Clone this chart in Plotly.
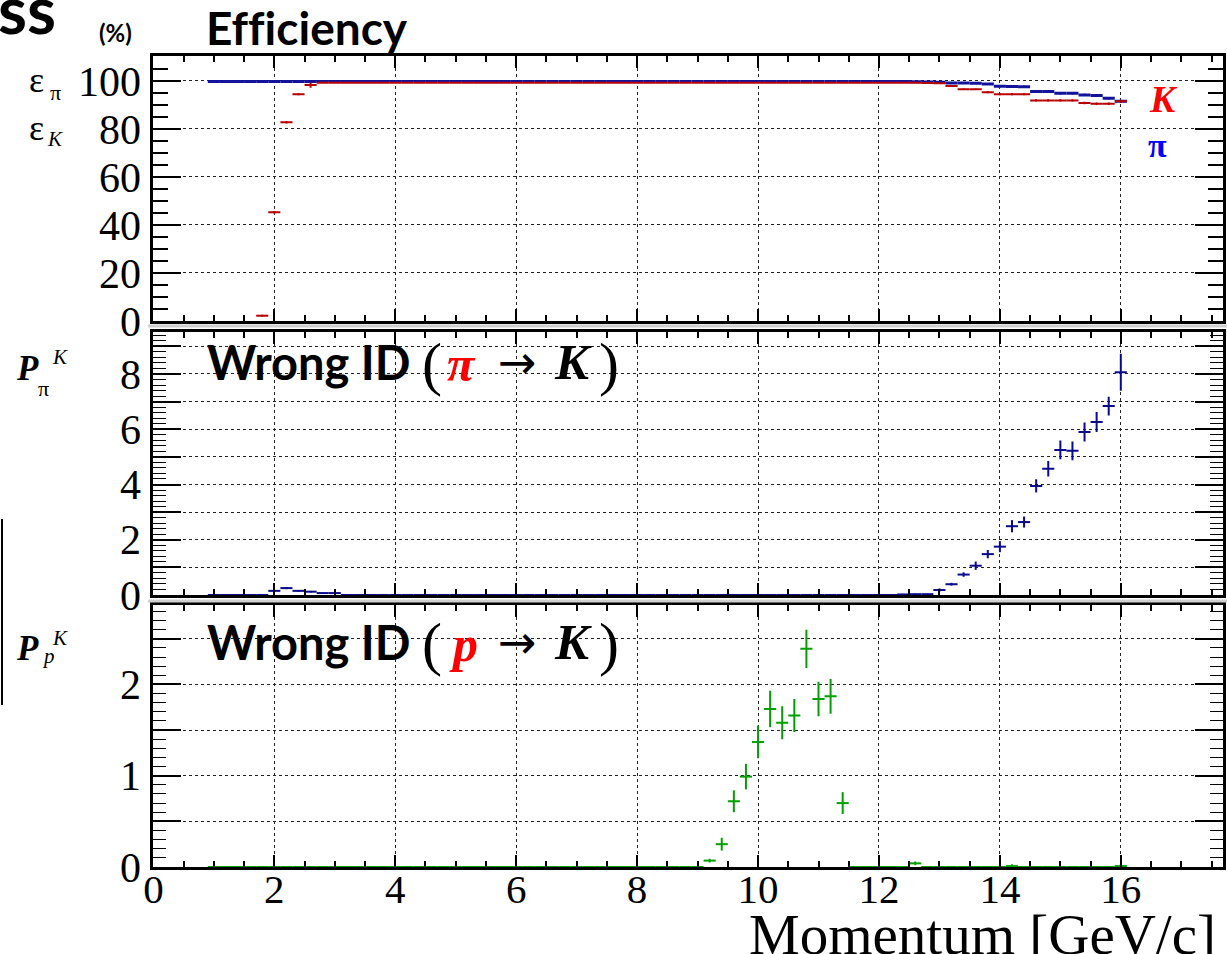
import plotly.graph_objects as go

# ---------------- data ----------------
momentum = [1.0, 1.2, 1.4, 1.6, 1.8, 2.0, 2.2, 2.4, 2.6, 2.8,
            3.0, 3.2, 3.4, 3.6, 3.8, 4.0, 4.2, 4.4, 4.6, 4.8,
            5.0, 5.2, 5.4, 5.6, 5.8, 6.0, 6.2, 6.4, 6.6, 6.8,
            7.0, 7.2, 7.4, 7.6, 7.8, 8.0, 8.2, 8.4, 8.6, 8.8,
            9.0, 9.2, 9.4, 9.6, 9.8, 10.0, 10.2, 10.4, 10.6, 10.8,
            11.0, 11.2, 11.4, 11.6, 11.8, 12.0, 12.2, 12.4, 12.6, 12.8,
            13.0, 13.2, 13.4, 13.6, 13.8, 14.0, 14.2, 14.4, 14.6, 14.8,
            15.0, 15.2, 15.4, 15.6, 15.8, 16.0]

eff_pi = [99.8, 99.8, 99.8, 99.8, 99.8, 99.8, 99.8, 99.8, 99.8, 99.8,
          99.8, 99.8, 99.8, 99.8, 99.8, 99.8, 99.8, 99.8, 99.8, 99.8,
          99.8, 99.8, 99.8, 99.8, 99.8, 99.8, 99.8, 99.8, 99.8, 99.8,
          99.8, 99.8, 99.8, 99.8, 99.8, 99.8, 99.8, 99.8, 99.8, 99.8,
          99.8, 99.8, 99.8, 99.8, 99.8, 99.8, 99.8, 99.8, 99.8, 99.8,
          99.8, 99.8, 99.8, 99.8, 99.8, 99.8, 99.8, 99.8, 99.7, 99.6,
          99.5, 99.1, 99.1, 99.0, 98.7, 97.8, 97.7, 97.6, 95.6, 95.6,
          94.9, 94.9, 94.2, 93.9, 92.8, 91.5]
eff_pi_err = [0.2, 0.2, 0.2, 0.2, 0.2, 0.2, 0.2, 0.2, 0.2, 0.2,
              0.2, 0.2, 0.2, 0.2, 0.2, 0.2, 0.2, 0.2, 0.2, 0.2,
              0.2, 0.2, 0.2, 0.2, 0.2, 0.2, 0.2, 0.2, 0.2, 0.2,
              0.2, 0.2, 0.2, 0.2, 0.2, 0.2, 0.2, 0.2, 0.2, 0.2,
              0.2, 0.2, 0.2, 0.2, 0.2, 0.2, 0.2, 0.2, 0.2, 0.2,
              0.2, 0.2, 0.2, 0.2, 0.2, 0.2, 0.2, 0.2, 0.2, 0.3,
              0.3, 0.4, 0.4, 0.3, 0.4, 0.5, 0.5, 0.5, 0.5, 0.4,
              0.5, 0.5, 0.5, 0.5, 0.5, 0.6]

eff_K = [None, None, None, None, 2.2, 45.3, 82.8, 94.5, 98.3, 99.3,
         99.3, 99.3, 99.3, 99.3, 99.3, 99.3, 99.3, 99.3, 99.3, 99.3,
         99.3, 99.3, 99.3, 99.3, 99.3, 99.3, 99.3, 99.3, 99.3, 99.3,
         99.3, 99.3, 99.3, 99.3, 99.3, 99.3, 99.3, 99.3, 99.3, 99.3,
         99.3, 99.3, 99.3, 99.3, 99.3, 99.3, 99.3, 99.3, 99.3, 99.3,
         99.3, 99.3, 99.3, 99.3, 99.3, 99.3, 99.3, 99.3, 99.3, 99.2,
         99.0, 97.9, 96.6, 96.6, 95.3, 94.5, 94.5, 94.5, 91.9, 91.9,
         91.9, 91.9, 90.8, 90.5, 90.5, 91.5]
eff_K_err = [None, None, None, None, 0.4, 0.5, 0.5, 0.4, 1.1, 0.2,
             0.2, 0.2, 0.2, 0.2, 0.2, 0.2, 0.2, 0.2, 0.2, 0.2,
             0.2, 0.2, 0.2, 0.2, 0.2, 0.2, 0.2, 0.2, 0.2, 0.2,
             0.2, 0.2, 0.2, 0.2, 0.2, 0.2, 0.2, 0.2, 0.2, 0.2,
             0.2, 0.2, 0.2, 0.2, 0.2, 0.2, 0.2, 0.2, 0.2, 0.2,
             0.2, 0.2, 0.2, 0.2, 0.2, 0.2, 0.2, 0.2, 0.2, 0.2,
             0.3, 0.3, 0.3, 0.3, 0.4, 0.5, 0.5, 0.5, 0.5, 0.5,
             0.5, 0.5, 0.5, 0.5, 0.5, 0.6]

misid_pi = [0, 0, 0, 0, 0, 0.15, 0.25, 0.15, 0.12, 0.07,
            0.07, 0, 0, 0, 0, 0, 0, 0, 0, 0,
            0, 0, 0, 0, 0, 0, 0, 0, 0, 0,
            0, 0, 0, 0, 0, 0, 0, 0, 0, 0,
            0, 0, 0, 0, 0, 0, 0, 0, 0, 0,
            0, 0, 0, 0, 0, 0, 0, 0.02, 0.03, 0.03,
            0.18, 0.39, 0.74, 1.06, 1.48, 1.75, 2.49, 2.64, 3.95, 4.57,
            5.25, 5.22, 5.90, 6.26, 6.84, 8.06]
misid_pi_err = [0, 0, 0, 0, 0, 0.03, 0.04, 0.03, 0.03, 0.02,
                0.02, 0, 0, 0, 0, 0, 0, 0, 0, 0,
                0, 0, 0, 0, 0, 0, 0, 0, 0, 0,
                0, 0, 0, 0, 0, 0, 0, 0, 0, 0,
                0, 0, 0, 0, 0, 0, 0, 0, 0, 0,
                0, 0, 0, 0, 0, 0, 0, 0.02, 0.02, 0.02,
                0.06, 0.05, 0.08, 0.15, 0.15, 0.20, 0.22, 0.20, 0.24, 0.28,
                0.34, 0.34, 0.34, 0.36, 0.34, 0.67]

misid_p = [0, 0, 0, 0, 0, 0, 0, 0, 0, 0,
           0, 0, 0, 0, 0, 0, 0, 0, 0, 0,
           0, 0, 0, 0, 0, 0, 0, 0, 0, 0,
           0, 0, 0, 0, 0, 0, 0, 0, 0, 0,
           0, 0.07, 0.25, 0.72, 0.99, 1.37, 1.73, 1.58, 1.66, 2.39,
           1.84, 1.87, 0.70, 0, 0, 0, 0, 0, 0.04, 0,
           0, 0, 0, 0, 0, 0, 0.01, 0, 0, 0,
           0, 0, 0, 0, 0, 0.01]
misid_p_err = [0, 0, 0, 0, 0, 0, 0, 0, 0, 0,
               0, 0, 0, 0, 0, 0, 0, 0, 0, 0,
               0, 0, 0, 0, 0, 0, 0, 0, 0, 0,
               0, 0, 0, 0, 0, 0, 0, 0, 0, 0,
               0, 0.02, 0.07, 0.12, 0.14, 0.18, 0.20, 0.18, 0.18, 0.21,
               0.19, 0.19, 0.12, 0, 0, 0, 0, 0, 0.02, 0,
               0, 0, 0, 0, 0, 0, 0.02, 0, 0, 0,
               0, 0, 0, 0, 0, 0.02]

x_ticks = [0, 2, 4, 6, 8, 10, 12, 14, 16]
eff_ticks = [0, 20, 40, 60, 80, 100]
pi_ticks = [0, 1, 2, 3, 4, 5, 6, 7, 8, 9]
pi_ticktext = ["0", "", "2", "", "4", "", "6", "", "8", ""]
p_ticks = [0, 0.5, 1, 1.5, 2, 2.5]
p_ticktext = ["0", "", "1", "", "2", ""]

# ---------------- geometry helpers ----------------
W, H = 1227, 954


def fx(p):
    return p / W


def fy(p):
    return 1 - p / H


BLUE = "#12129a"
RED = "#b80000"
MBLUE = "#0a0a8c"
GREEN = "#00a000"
SERIF = "Liberation Serif"
SANS = "Lato"

fig = go.Figure()


def hist_trace(xv, yv, err, color, xa, ya, xthick, ythick):
    return go.Scatter(
        x=xv, y=yv, xaxis=xa, yaxis=ya, mode="markers",
        marker=dict(size=1, color=color, opacity=0),
        error_x=dict(type="constant", value=0.1, width=0, thickness=xthick, color=color),
        error_y=dict(type="data", array=err, width=0, thickness=ythick, color=color),
        showlegend=False, hoverinfo="skip", cliponaxis=True,
    )


# top panel: efficiency
fig.add_trace(hist_trace(momentum, eff_pi, eff_pi_err, BLUE, "x", "y", 3, 2))
fig.add_trace(hist_trace(momentum, eff_K, eff_K_err, RED, "x", "y", 2, 2))
# middle panel: pi -> K
fig.add_trace(hist_trace(momentum, misid_pi, misid_pi_err, MBLUE, "x2", "y2", 2, 2))
# bottom panel: p -> K
fig.add_trace(hist_trace(momentum, misid_p, misid_p_err, GREEN, "x3", "y3", 2, 2))

xdom = [fx(153.4), fx(1223)]
xcommon = dict(
    range=[0, 17.69], domain=xdom, showline=True, linewidth=3, linecolor="black",
    mirror="ticks", ticks="inside", ticklen=12, tickwidth=2, tickcolor="black",
    tickvals=x_ticks, showgrid=True, gridcolor="#222", griddash="dot", gridwidth=1.3,
    zeroline=False, automargin=False,
    minor=dict(dtick=0.5, tick0=0, ticklen=6, tickwidth=1.5, ticks="inside",
               tickcolor="black", showgrid=False),
    tickfont=dict(family=SERIF, size=41, color="black"),
)
ycommon = dict(
    showline=True, linewidth=3, linecolor="black", mirror="ticks", ticks="inside",
    ticklen=28, tickwidth=2, tickcolor="black", showgrid=True, gridcolor="#222",
    griddash="dot", gridwidth=1.3, zeroline=False, automargin=False,
    tickfont=dict(family=SERIF, size=42, color="black"), ticklabelstandoff=1,
)

fig.update_layout(
    width=W, height=H, autosize=False,
    margin=dict(l=0, r=0, t=0, b=0, pad=0, autoexpand=False),
    paper_bgcolor="white", plot_bgcolor="white",
    showlegend=False,
    xaxis=dict(**xcommon, anchor="y", showticklabels=False),
    xaxis2=dict(**xcommon, anchor="y2", showticklabels=False),
    xaxis3=dict(**xcommon, anchor="y3", showticklabels=True, ticklabelstandoff=-16),
    yaxis=dict(**ycommon, anchor="x", domain=[fy(321), fy(56)], range=[0, 110.4],
               tickvals=eff_ticks,
               minor=dict(dtick=5, tick0=0, ticklen=15, tickwidth=1.5, ticks="inside",
                          tickcolor="black", showgrid=False)),
    yaxis2=dict(**ycommon, anchor="x2", domain=[fy(595), fy(332)], range=[0, 9.52],
                tickvals=pi_ticks, ticktext=pi_ticktext,
                minor=dict(dtick=0.2, tick0=0, ticklen=13, tickwidth=1.2, ticks="inside",
                           tickcolor="black", showgrid=False)),
    yaxis3=dict(**ycommon, anchor="x3", domain=[fy(867), fy(605)], range=[0, 2.87],
                tickvals=p_ticks, ticktext=p_ticktext,
                minor=dict(dtick=0.1, tick0=0, ticklen=13, tickwidth=1.2, ticks="inside",
                           tickcolor="black", showgrid=False)),
)

ann = []


def txt(text, x, y, size, family, color="black", xanchor="left", yanchor="middle"):
    ann.append(dict(text=text, x=fx(x), y=fy(y), xref="paper", yref="paper",
                    xanchor=xanchor, yanchor=yanchor, showarrow=False,
                    font=dict(family=family, size=size, color=color), borderpad=0))


# header fragments
txt("<b>ss</b>", -3, 8, 66, SANS)
txt("<b>(%)</b>", 98, 33, 24, SANS)
txt("<b>Ef\u200cf\u200ciciency</b>", 205, 28, 46, SANS)

# top panel species labels
txt("<b><i>K</i></b>", 1148, 99, 38, SERIF, color="#ff0000")
txt("<b>π</b>", 1157, 145, 34, SERIF, color="#0000ff", xanchor="center")

# middle panel title
txt("<b>Wrong ID</b>", 206, 362, 47, SANS)
txt("(", 421, 364, 60, SERIF)
txt("<b><i>π</i></b>", 446, 364, 50, SERIF, color="#ff0000")
txt("→", 497, 362, 46, "DejaVu Sans")
txt("<b><i>K</i></b>", 553, 362, 51, SERIF)
txt(")", 598, 364, 60, SERIF)

# bottom panel title
txt("<b>Wrong ID</b>", 206, 642, 47, SANS)
txt("(", 421, 644, 60, SERIF)
txt("<b><i>p</i></b>", 448, 644, 50, SERIF, color="#ff0000")
txt("→", 497, 642, 46, "DejaVu Sans")
txt("<b><i>K</i></b>", 553, 642, 51, SERIF)
txt(")", 598, 644, 60, SERIF)

# y-axis symbols
txt("ε", 28, 80, 36, SERIF)
txt("π", 49, 92, 22, SERIF)
txt("ε", 28, 128, 36, SERIF)
txt("<i>K</i>", 46, 139, 21, SERIF)
txt("<b><i>P</i></b>", 15, 368, 35, SERIF)
txt("π", 37, 388, 22, SERIF)
txt("<i>K</i>", 51, 357, 21, SERIF)
txt("<b><i>P</i></b>", 15, 648, 35, SERIF)
txt("<i>p</i>", 41, 656, 21, SERIF)
txt("<i>K</i>", 51, 638, 21, SERIF)

# x-axis title
txt("Momentum [GeV/c]", 1217, 934, 57, SERIF, xanchor="right")

shapes = [
    dict(type="line", xref="paper", yref="paper", x0=fx(148), x1=fx(1227),
         y0=fy(326), y1=fy(326), line=dict(color="#cfcfcf", width=3)),
    dict(type="line", xref="paper", yref="paper", x0=fx(148), x1=fx(1227),
         y0=fy(601), y1=fy(601), line=dict(color="#cfcfcf", width=3)),
    dict(type="line", xref="paper", yref="paper", x0=fx(2), x1=fx(2),
         y0=fy(519), y1=fy(705), line=dict(color="black", width=2)),
]

fig.update_layout(annotations=ann, shapes=shapes)

fig.write_html("out.html", post_script="document.body.style.margin='0';")
